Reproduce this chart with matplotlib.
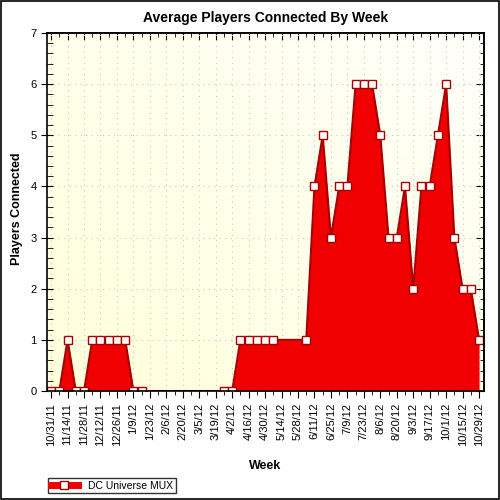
import numpy as np
import matplotlib
matplotlib.use("Agg")
import matplotlib.pyplot as plt
from matplotlib.patches import Rectangle
from matplotlib.ticker import MultipleLocator

plt.rcParams['font.family'] = ['Liberation Sans', 'DejaVu Sans']

# week number (0 = 10/31/11) of each weekly sample, gaps are missing weeks
weeks = [0, 1, 2, 3, 4, 5, 6, 7, 8, 9, 10, 11,
         21, 22, 23, 24, 25, 26, 27,
         31, 32, 33, 34, 35, 36, 37, 38, 39, 40, 41, 42, 43, 44, 45, 46,
         47, 48, 49, 50, 51, 52]
players = [0, 0, 1, 0, 0, 1, 1, 1, 1, 1, 0, 0,
           0, 0, 1, 1, 1, 1, 1,
           1, 4, 5, 3, 4, 4, 6, 6, 6, 5, 3, 3, 4, 2, 4, 4,
           5, 6, 3, 2, 2, 1]
tick_labels = ["10/31/11", "11/14/11", "11/28/11", "12/12/11", "12/26/11",
               "1/9/12", "1/23/12", "2/6/12", "2/20/12", "3/5/12", "3/19/12",
               "4/2/12", "4/16/12", "4/30/12", "5/14/12", "5/28/12", "6/11/12",
               "6/25/12", "7/9/12", "7/23/12", "8/6/12", "8/20/12", "9/3/12",
               "9/17/12", "10/1/12", "10/15/12", "10/29/12"]
series_name = "DC Universe MUX"

FILL = "#f00000"
EDGE = "#a80000"

fig = plt.figure(figsize=(5, 5), dpi=100)
ax = fig.add_axes([0.094, 0.218, 0.874, 0.716])

# pale yellow gradient background
gx, gy = np.meshgrid(np.linspace(0, 1, 64), np.linspace(0, 1, 64))
g = (gx + (1 - gy)) / 2
bg = np.zeros((64, 64, 3))
bg[..., 0] = 1.0
bg[..., 1] = 1.0
bg[..., 2] = 0.86 + 0.12 * g
ax.imshow(bg, extent=[0, 1, 0, 1], transform=ax.transAxes, aspect="auto",
          zorder=0, origin="upper")

ax.fill_between(weeks, players, 0, color=FILL, lw=0, zorder=2)
ax.plot(weeks, players, color=EDGE, lw=1.5, zorder=3,
        marker="s", ms=5.5, mfc="white", mec=EDGE, mew=1.0, label=series_name)

ax.set_xlim(-0.5, 52.6)
ax.set_ylim(0, 7)
ax.set_xticks(range(0, 53, 2))
ax.set_xticklabels(tick_labels, rotation=90, fontsize=8)
ax.xaxis.set_minor_locator(MultipleLocator(1))
ax.yaxis.set_major_locator(MultipleLocator(1))
ax.yaxis.set_minor_locator(MultipleLocator(0.2))
ax.tick_params(axis="y", which="major", direction="inout", length=8, labelsize=8)
ax.tick_params(axis="y", which="minor", direction="in", length=4)
ax.tick_params(axis="x", which="major", direction="out", length=5, labelsize=8)
ax.tick_params(axis="x", which="minor", direction="out", length=3)

# inward ticks along the top and right edges
top = ax.secondary_xaxis("top")
top.set_xticks(range(0, 53, 2))
top.xaxis.set_minor_locator(MultipleLocator(1))
top.tick_params(which="major", direction="in", length=5, labeltop=False)
top.tick_params(which="minor", direction="in", length=3)
right = ax.secondary_yaxis("right")
right.yaxis.set_major_locator(MultipleLocator(1))
right.yaxis.set_minor_locator(MultipleLocator(0.2))
right.tick_params(which="major", direction="in", length=6, labelright=False)
right.tick_params(which="minor", direction="in", length=3)
for sec in (top, right):
    for s in sec.spines.values():
        s.set_linewidth(1.2)

ax.grid(True, which="major", color="#c8c8d0", linestyle=(0, (1, 4)), lw=0.8, zorder=1)
for s in ax.spines.values():
    s.set_linewidth(1.2)
    s.set_zorder(5)

ax.set_title("Average Players Connected By Week", fontsize=10, fontweight="bold", pad=8)
ax.set_ylabel("Players Connected", fontsize=9, fontweight="bold")
ax.yaxis.set_label_coords(-0.056, 0.51)
ax.set_xlabel("Week", fontsize=9, fontweight="bold", labelpad=10)

leg = ax.legend(loc="upper left", bbox_to_anchor=(0.096, 0.044),
                bbox_transform=fig.transFigure, borderaxespad=0, fontsize=7.5,
                frameon=True, fancybox=False, edgecolor="black", borderpad=0.25,
                handlelength=2.6, handletextpad=1.0)
leg.get_frame().set_linewidth(1.0)
leg.legend_handles[0].set_linewidth(5)
leg.legend_handles[0].set_color(FILL)
leg.legend_handles[0].set_markeredgecolor(EDGE)

fig.patches.append(Rectangle((0.002, 0.002), 0.996, 0.996, transform=fig.transFigure,
                             fill=False, edgecolor="black", lw=1.2))

fig.savefig("out.png", dpi=100)
